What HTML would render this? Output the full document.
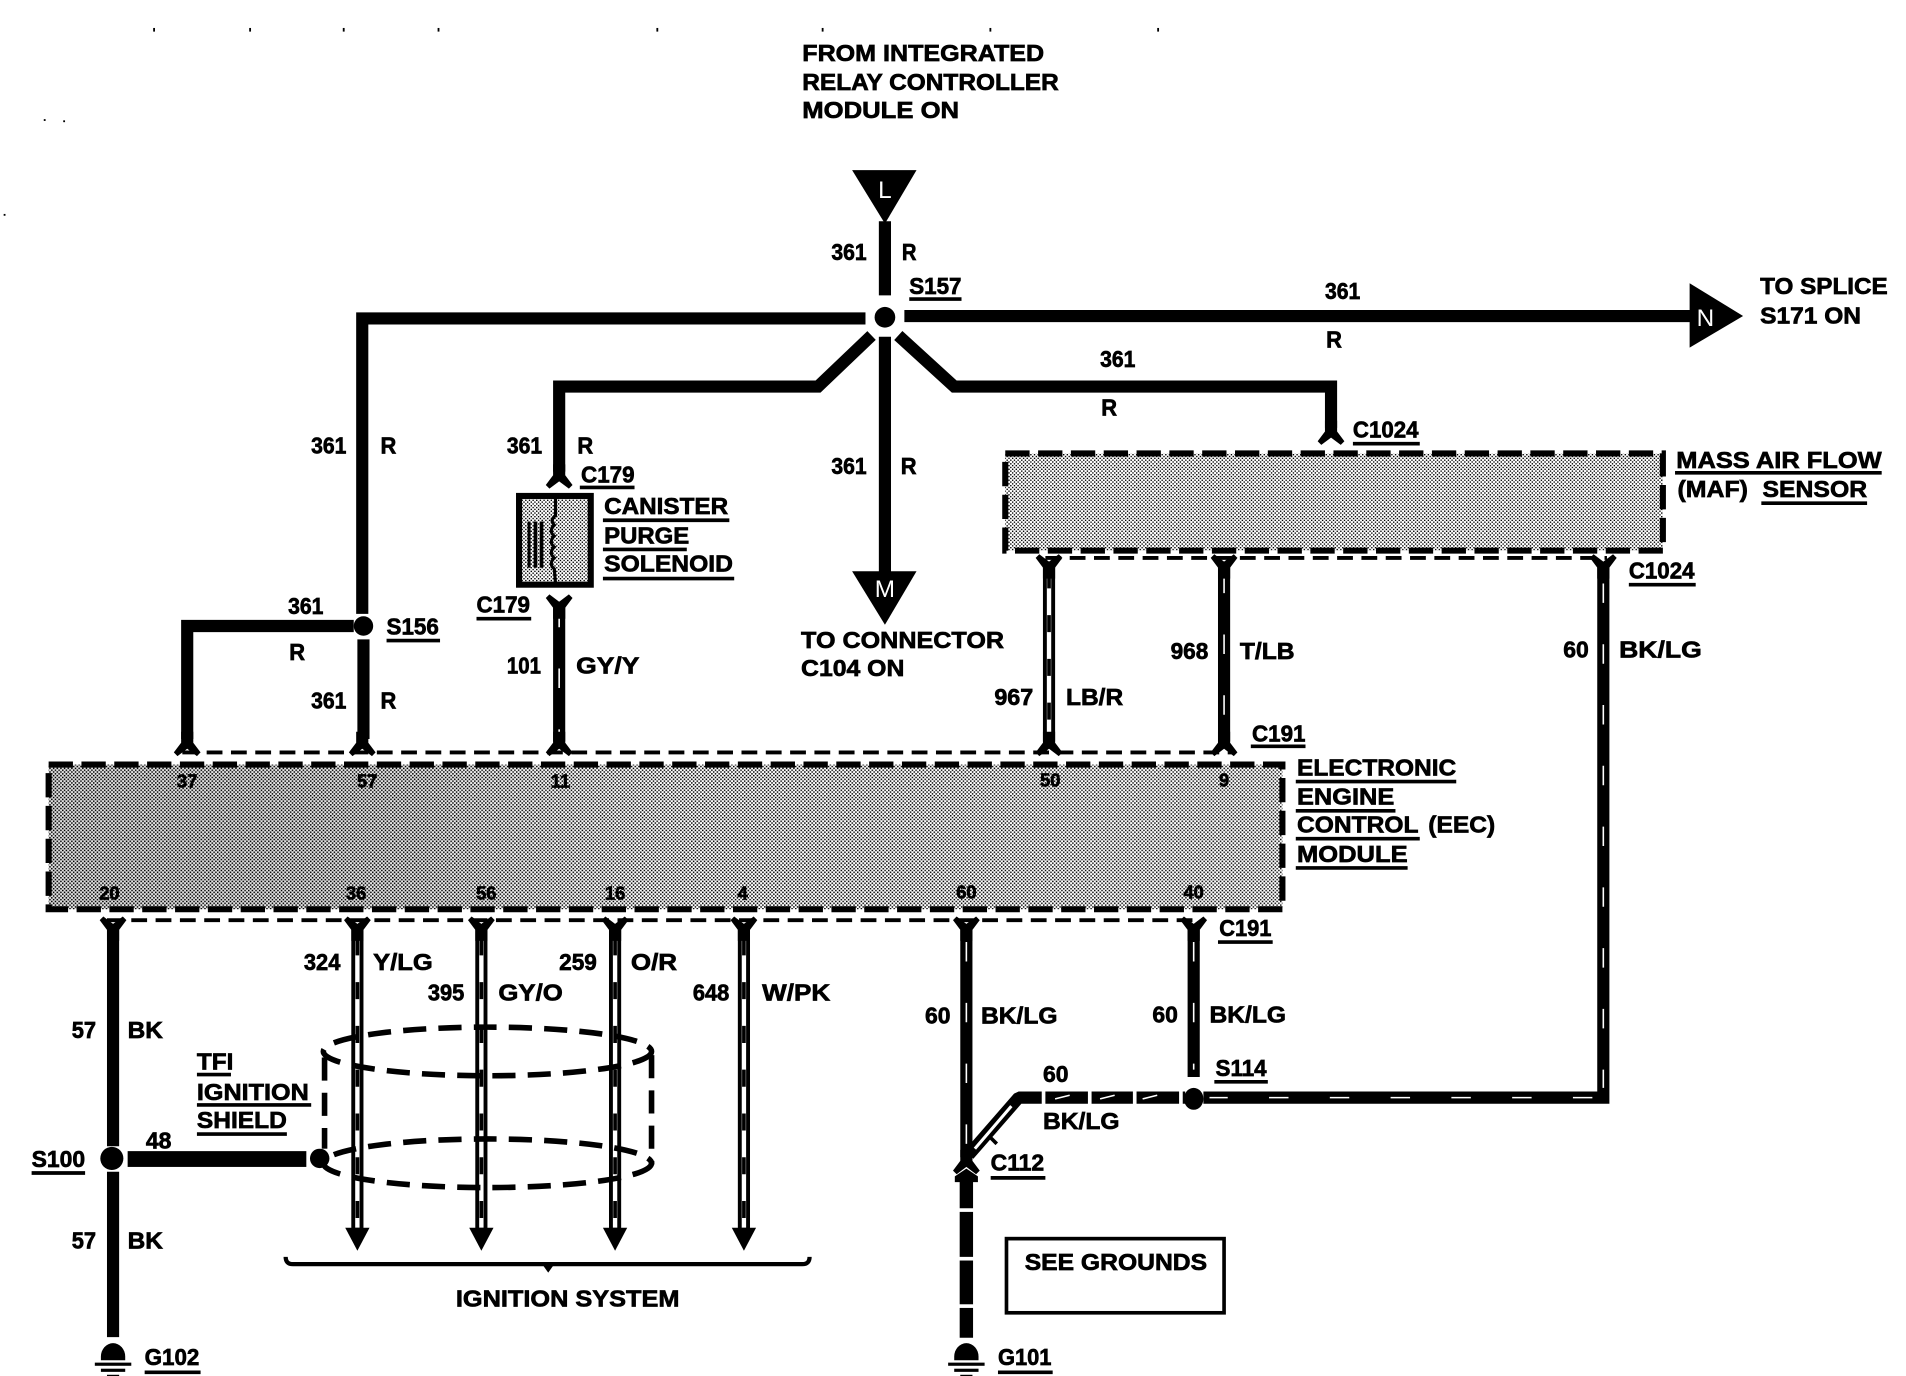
<!DOCTYPE html>
<html><head><meta charset="utf-8">
<style>
html,body{margin:0;padding:0;background:#fff;}
svg{display:block;width:1906px;height:1376px;}
text{font-family:"Liberation Sans",sans-serif;font-weight:bold;font-size:19px;fill:#000;stroke:#000;stroke-width:.55px;}
.w{stroke:#000;stroke-width:10;fill:none;stroke-linejoin:miter;}
.d{stroke:#000;stroke-width:10;fill:none;}
.in{stroke:#fff;stroke-width:3.6;fill:none;}
.sl{stroke:#000;stroke-width:3;fill:none;stroke-dasharray:14 22;}
.tk{stroke:#fff;stroke-width:1.3;fill:none;stroke-dasharray:16 34;}
.u{stroke:#000;stroke-width:3;fill:none;}
.dsh{stroke:#000;stroke-width:3.2;fill:none;stroke-dasharray:13 7;}
.sh{stroke:#000;stroke-width:4.6;fill:none;stroke-dasharray:19 10;}
</style></head><body>
<svg viewBox="0 0 1568 1132" xmlns="http://www.w3.org/2000/svg">
<defs>
<pattern id="p" width="3" height="3" patternUnits="userSpaceOnUse"><rect width="3" height="3" fill="#fff"/><rect width="1.25" height="1.25" fill="#000"/><rect x="1.5" y="1.5" width="1.25" height="1.25" fill="#000"/></pattern>
<pattern id="q" width="3" height="3" patternUnits="userSpaceOnUse"><rect width="3" height="3" fill="#fff"/><rect width="1.15" height="1.15" fill="#000"/><rect x="1.5" y="1.5" width="1.15" height="1.15" fill="#000"/></pattern>
<linearGradient id="g" x1="0" x2="1" y1="0" y2="0"><stop offset="0" stop-color="#000" stop-opacity=".12"/><stop offset=".3" stop-color="#000" stop-opacity=".1"/><stop offset=".55" stop-color="#fff" stop-opacity="0"/><stop offset="1" stop-color="#fff" stop-opacity=".08"/></linearGradient>
<path id="a" d="M-11 5 L-5 -3 L-5 -12 L5 -12 L5 -3 L11 5 L8 8 L0 2 L-8 8 Z"/>
<path id="y" d="M-11 -5 L-5 3 L-5 12 L5 12 L5 3 L11 -5 L8 -8 L0 -2 L-8 -8 Z"/>
<g id="gnd"><path d="M-10 0 A10 11 0 0 1 10 0 L10 3 L-10 3 Z"/><rect x="-15" y="5" width="30" height="2.6"/><rect x="-10" y="10" width="20" height="2.6"/><rect x="-5" y="15" width="10" height="2.6"/></g>
</defs>
<rect width="1568" height="1132" fill="#fff"/>

<!-- specks -->
<g fill="#000"><rect x="126" y="23" width="1.5" height="3"/><rect x="205" y="23" width="1.5" height="3"/><rect x="282" y="23" width="1.5" height="3"/><rect x="360" y="23" width="1.5" height="3"/><rect x="540" y="23" width="1.5" height="3"/><rect x="676" y="23" width="1.5" height="3"/><rect x="814" y="23" width="1.5" height="3"/><rect x="952" y="23" width="1.5" height="3"/><rect x="36" y="98" width="1.5" height="1.5"/><rect x="52" y="99" width="1.5" height="1.5"/><rect x="3" y="176" width="1.5" height="1.5"/></g>

<!-- boxes -->
<rect x="40" y="629" width="1015" height="119" fill="url(#p)"/>
<rect x="40" y="629" width="1015" height="119" fill="url(#g)"/>
<rect x="40" y="629" width="1015" height="119" fill="none" stroke="#000" stroke-width="5" stroke-dasharray="20 7"/>
<rect x="827" y="373" width="541" height="80" fill="url(#q)"/>
<rect x="827" y="373" width="541" height="80" fill="none" stroke="#000" stroke-width="5" stroke-dasharray="20 7"/>
<line class="dsh" x1="150" y1="619" x2="1016" y2="619"/>
<line class="dsh" x1="88" y1="757" x2="986" y2="757"/>
<line class="dsh" x1="860" y1="459" x2="1322" y2="459"/>

<!-- main wires -->
<polygon points="701,140 754,140 728,184"/>
<line class="w" x1="728" y1="182" x2="728" y2="243"/>
<line class="w" x1="744" y1="260" x2="1392" y2="260"/>
<polygon points="1390,233 1390,286 1434,260"/>
<polyline class="w" points="712,262 298,262 298,505"/>
<circle cx="299" cy="515" r="8"/>
<line class="w" x1="299" y1="526" x2="299" y2="608"/>
<polyline class="w" points="291,515 154,515 154,608"/>
<polyline class="w" points="717,276 673,318 460,318 460,388"/>
<polyline class="w" points="739,276 785,318 1095,318 1095,352"/>
<line class="w" x1="728" y1="277" x2="728" y2="474"/>
<polygon points="701,470 754,470 728,514"/>
<circle cx="728" cy="261" r="8.5"/>

<!-- signal wires -->
<line class="w" x1="460" y1="495" x2="460" y2="610"/><line class="tk" x1="460" y1="500" x2="460" y2="610"/>
<line class="d" x1="863" y1="465" x2="863" y2="610"/><line class="in" x1="863" y1="470" x2="863" y2="606"/><line class="sl" x1="863" y1="470" x2="863" y2="606"/>
<line class="w" x1="1007" y1="465" x2="1007" y2="610"/><line class="tk" x1="1007" y1="472" x2="1007" y2="606"/>
<polyline class="w" points="1319,465 1319,903 990,903"/><line class="tk" x1="1319" y1="480" x2="1319" y2="895"/><line class="tk" x1="1310" y1="903" x2="995" y2="903"/>
<use href="#a" x="154" y="614"/><use href="#a" x="298" y="614"/><use href="#a" x="460" y="614"/><use href="#a" x="863" y="614"/><use href="#a" x="1007" y="614"/>
<use href="#a" x="460" y="394"/><use href="#a" x="1095" y="358"/>
<use href="#y" x="460" y="497"/><use href="#y" x="863" y="464"/><use href="#y" x="1007" y="464"/><use href="#y" x="1319" y="464"/>

<line class="w" x1="93" y1="762" x2="93" y2="943"/>
<circle cx="92" cy="953" r="9.5"/>
<line class="w" x1="93" y1="964" x2="93" y2="1100"/>
<rect x="105" y="947" width="147" height="13"/>
<circle cx="263" cy="953" r="8"/>
<line class="d" x1="294" y1="762" x2="294" y2="1012"/><line class="in" x1="294" y1="770" x2="294" y2="1010"/><line class="sl" x1="294" y1="772" x2="294" y2="1010"/>
<line class="d" x1="396" y1="762" x2="396" y2="1012"/><line class="in" x1="396" y1="770" x2="396" y2="1010"/><line class="sl" x1="396" y1="772" x2="396" y2="1010"/>
<line class="d" x1="506" y1="762" x2="506" y2="1012"/><line class="in" x1="506" y1="770" x2="506" y2="1010"/><line class="sl" x1="506" y1="772" x2="506" y2="1010"/>
<line class="d" x1="612" y1="762" x2="612" y2="1012"/><line class="in" x1="612" y1="770" x2="612" y2="1010"/><line class="sl" x1="612" y1="772" x2="612" y2="1010"/>
<polygon points="284,1010 304,1010 294,1029"/><polygon points="386,1010 406,1010 396,1029"/><polygon points="496,1010 516,1010 506,1029"/><polygon points="602,1010 622,1010 612,1029"/>
<use href="#y" x="93" y="762"/><use href="#y" x="294" y="762"/><use href="#y" x="396" y="762"/><use href="#y" x="506" y="762"/><use href="#y" x="612" y="762"/><use href="#y" x="795" y="762"/><use href="#y" x="982" y="762"/>

<line class="w" x1="795" y1="765" x2="795" y2="952"/><line class="tk" x1="795" y1="775" x2="795" y2="945"/>
<line class="w" x1="982" y1="765" x2="982" y2="886"/><line class="tk" x1="982" y1="775" x2="982" y2="880"/>
<ellipse cx="982" cy="904" rx="8" ry="9"/>
<polyline class="w" points="797,950 838,903 975,903" style="stroke-linejoin:bevel"/>
<g fill="#fff"><rect x="857" y="897" width="3" height="12"/><rect x="895" y="897" width="3" height="12"/><rect x="932" y="897" width="3" height="12"/><rect x="970" y="897" width="3" height="12"/></g>
<line stroke="#fff" stroke-width="1.3" x1="868" y1="904" x2="880" y2="901"/><line stroke="#fff" stroke-width="1.3" x1="905" y1="904" x2="917" y2="901"/><line stroke="#fff" stroke-width="1.3" x1="940" y1="904" x2="952" y2="901"/>
<line stroke="#fff" stroke-width="2.5" x1="802" y1="945" x2="832" y2="910"/>
<line stroke="#000" stroke-width="3" x1="815" y1="936" x2="820" y2="941"/>
<use href="#a" x="795" y="958"/>
<path d="M786 972 L786 968 L795 962 L804 968 L804 972 L800 972 L800 1100 L790 1100 L790 972 Z" stroke="#000" stroke-width="1"/>
<g fill="#fff"><rect x="788" y="994" width="14" height="3"/><rect x="788" y="1034" width="14" height="3"/><rect x="788" y="1073" width="14" height="3"/></g>
<use href="#gnd" x="795" y="1116"/><use href="#gnd" x="93" y="1116"/>

<!-- shield -->
<ellipse class="sh" cx="401" cy="865" rx="135" ry="20"/>
<ellipse class="sh" cx="401" cy="957" rx="135" ry="20"/>
<line class="sh" x1="267" y1="870" x2="267" y2="945"/>
<line class="sh" x1="536" y1="868" x2="536" y2="958"/>

<!-- brace -->
<path d="M235 1034 Q235 1040 241 1040 L660 1040 Q666 1040 666 1034" fill="none" stroke="#000" stroke-width="3.5"/>
<path d="M446 1040 L451 1047 L456 1040 Z"/>
<rect x="828" y="1019" width="179" height="61" fill="none" stroke="#000" stroke-width="3"/>

<!-- solenoid -->
<rect x="427" y="408" width="59" height="73" fill="url(#q)" stroke="#000" stroke-width="5"/>
<g fill="#000"><rect x="434" y="429" width="2.5" height="38"/><rect x="439" y="429" width="3" height="38"/><rect x="444" y="429" width="3" height="38"/></g>
<path d="M457 410 L457 424 Q452 428 456 432 Q451 437 456 441 Q451 446 456 450 Q451 455 456 459 Q451 464 456 468 L457 480" fill="none" stroke="#000" stroke-width="2.6"/>

<!-- underlines -->
<g class="u">
<line x1="748" y1="246" x2="791" y2="246"/><line x1="1113" y1="365" x2="1168" y2="365"/><line x1="1378" y1="389" x2="1548" y2="389"/><line x1="1449" y1="414" x2="1536" y2="414"/>
<line x1="477" y1="401" x2="522" y2="401"/><line x1="496" y1="428" x2="600" y2="428"/><line x1="496" y1="452" x2="565" y2="452"/><line x1="496" y1="476" x2="604" y2="476"/>
<line x1="392" y1="509" x2="437" y2="509"/><line x1="318" y1="527" x2="362" y2="527"/><line x1="1340" y1="481" x2="1395" y2="481"/><line x1="1029" y1="614" x2="1074" y2="614"/>
<line x1="1066" y1="643" x2="1198" y2="643"/><line x1="1066" y1="667" x2="1148" y2="667"/><line x1="1066" y1="690" x2="1168" y2="690"/><line x1="1066" y1="714" x2="1158" y2="714"/>
<line x1="1002" y1="775" x2="1047" y2="775"/><line x1="26" y1="965" x2="70" y2="965"/><line x1="162" y1="884" x2="190" y2="884"/><line x1="162" y1="909" x2="256" y2="909"/><line x1="162" y1="933" x2="236" y2="933"/>
<line x1="999" y1="890" x2="1043" y2="890"/><line x1="815" y1="969" x2="860" y2="969"/><line x1="119" y1="1129" x2="165" y2="1129"/><line x1="821" y1="1129" x2="866" y2="1129"/>
</g>

<!-- labels -->
<text x="660" y="50" textLength="199" lengthAdjust="spacingAndGlyphs">FROM INTEGRATED</text>
<text x="660" y="74" textLength="211" lengthAdjust="spacingAndGlyphs">RELAY CONTROLLER</text>
<text x="660" y="97" textLength="129" lengthAdjust="spacingAndGlyphs">MODULE ON</text>
<text x="728" y="163" text-anchor="middle" style="fill:#fff;stroke:none;font-weight:normal;font-size:20px">L</text>
<text x="1403" y="268" text-anchor="middle" style="fill:#fff;stroke:none;font-weight:normal;font-size:20px">N</text>
<text x="728" y="491" text-anchor="middle" style="fill:#fff;stroke:none;font-weight:normal;font-size:20px">M</text>
<text x="684" y="214" textLength="29" lengthAdjust="spacingAndGlyphs">361</text><text x="742" y="214" textLength="12" lengthAdjust="spacingAndGlyphs">R</text>
<text x="748" y="242" textLength="43" lengthAdjust="spacingAndGlyphs">S157</text>
<text x="1090" y="246" textLength="29" lengthAdjust="spacingAndGlyphs">361</text><text x="1091" y="286" textLength="13" lengthAdjust="spacingAndGlyphs">R</text>
<text x="1448" y="242" textLength="105" lengthAdjust="spacingAndGlyphs">TO SPLICE</text><text x="1448" y="266" textLength="83" lengthAdjust="spacingAndGlyphs">S171 ON</text>
<text x="905" y="302" textLength="29" lengthAdjust="spacingAndGlyphs">361</text><text x="906" y="342" textLength="13" lengthAdjust="spacingAndGlyphs">R</text>
<text x="1113" y="360" textLength="54" lengthAdjust="spacingAndGlyphs">C1024</text>
<text x="1379" y="385" textLength="169" lengthAdjust="spacingAndGlyphs">MASS AIR FLOW</text>
<text x="1380" y="409" textLength="58" lengthAdjust="spacingAndGlyphs">(MAF)</text><text x="1450" y="409" textLength="86" lengthAdjust="spacingAndGlyphs">SENSOR</text>
<text x="256" y="373" textLength="29" lengthAdjust="spacingAndGlyphs">361</text><text x="313" y="373" textLength="13" lengthAdjust="spacingAndGlyphs">R</text>
<text x="417" y="373" textLength="29" lengthAdjust="spacingAndGlyphs">361</text><text x="475" y="373" textLength="13" lengthAdjust="spacingAndGlyphs">R</text>
<text x="478" y="397" textLength="44" lengthAdjust="spacingAndGlyphs">C179</text>
<text x="497" y="423" textLength="102" lengthAdjust="spacingAndGlyphs">CANISTER</text>
<text x="497" y="447" textLength="70" lengthAdjust="spacingAndGlyphs">PURGE</text>
<text x="497" y="470" textLength="106" lengthAdjust="spacingAndGlyphs">SOLENOID</text>
<text x="392" y="504" textLength="44" lengthAdjust="spacingAndGlyphs">C179</text>
<text x="684" y="390" textLength="29" lengthAdjust="spacingAndGlyphs">361</text><text x="741" y="390" textLength="13" lengthAdjust="spacingAndGlyphs">R</text>
<text x="237" y="505" textLength="29" lengthAdjust="spacingAndGlyphs">361</text><text x="238" y="543" textLength="13" lengthAdjust="spacingAndGlyphs">R</text>
<text x="318" y="522" textLength="43" lengthAdjust="spacingAndGlyphs">S156</text>
<text x="256" y="583" textLength="29" lengthAdjust="spacingAndGlyphs">361</text><text x="313" y="583" textLength="13" lengthAdjust="spacingAndGlyphs">R</text>
<text x="417" y="554" textLength="28" lengthAdjust="spacingAndGlyphs">101</text><text x="474" y="554" textLength="52" lengthAdjust="spacingAndGlyphs">GY/Y</text>
<text x="659" y="533" textLength="167" lengthAdjust="spacingAndGlyphs">TO CONNECTOR</text><text x="659" y="556" textLength="85" lengthAdjust="spacingAndGlyphs">C104 ON</text>
<text x="818" y="580" textLength="32" lengthAdjust="spacingAndGlyphs">967</text><text x="877" y="580" textLength="47" lengthAdjust="spacingAndGlyphs">LB/R</text>
<text x="963" y="542" textLength="31" lengthAdjust="spacingAndGlyphs">968</text><text x="1020" y="542" textLength="45" lengthAdjust="spacingAndGlyphs">T/LB</text>
<text x="1286" y="541" textLength="21" lengthAdjust="spacingAndGlyphs">60</text><text x="1332" y="541" textLength="68" lengthAdjust="spacingAndGlyphs">BK/LG</text>
<text x="1340" y="476" textLength="54" lengthAdjust="spacingAndGlyphs">C1024</text>
<text x="1030" y="610" textLength="44" lengthAdjust="spacingAndGlyphs">C191</text>
<text x="1067" y="638" textLength="131" lengthAdjust="spacingAndGlyphs">ELECTRONIC</text>
<text x="1067" y="662" textLength="80" lengthAdjust="spacingAndGlyphs">ENGINE</text>
<text x="1067" y="685" textLength="100" lengthAdjust="spacingAndGlyphs">CONTROL</text><text x="1175" y="685" textLength="55" lengthAdjust="spacingAndGlyphs">(EEC)</text>
<text x="1067" y="709" textLength="91" lengthAdjust="spacingAndGlyphs">MODULE</text>
<text x="1003" y="770" textLength="43" lengthAdjust="spacingAndGlyphs">C191</text>
<text x="250" y="798" textLength="30" lengthAdjust="spacingAndGlyphs">324</text><text x="307" y="798" textLength="49" lengthAdjust="spacingAndGlyphs">Y/LG</text>
<text x="352" y="823" textLength="30" lengthAdjust="spacingAndGlyphs">395</text><text x="410" y="823" textLength="53" lengthAdjust="spacingAndGlyphs">GY/O</text>
<text x="460" y="798" textLength="31" lengthAdjust="spacingAndGlyphs">259</text><text x="519" y="798" textLength="38" lengthAdjust="spacingAndGlyphs">O/R</text>
<text x="570" y="823" textLength="30" lengthAdjust="spacingAndGlyphs">648</text><text x="627" y="823" textLength="56" lengthAdjust="spacingAndGlyphs">W/PK</text>
<text x="761" y="842" textLength="21" lengthAdjust="spacingAndGlyphs">60</text><text x="807" y="842" textLength="63" lengthAdjust="spacingAndGlyphs">BK/LG</text>
<text x="948" y="841" textLength="21" lengthAdjust="spacingAndGlyphs">60</text><text x="995" y="841" textLength="63" lengthAdjust="spacingAndGlyphs">BK/LG</text>
<text x="59" y="854" textLength="20" lengthAdjust="spacingAndGlyphs">57</text><text x="105" y="854" textLength="29" lengthAdjust="spacingAndGlyphs">BK</text>
<text x="26" y="960" textLength="44" lengthAdjust="spacingAndGlyphs">S100</text>
<text x="120" y="945" textLength="21" lengthAdjust="spacingAndGlyphs">48</text>
<text x="162" y="880" textLength="30" lengthAdjust="spacingAndGlyphs">TFI</text>
<text x="162" y="905" textLength="92" lengthAdjust="spacingAndGlyphs">IGNITION</text>
<text x="162" y="928" textLength="74" lengthAdjust="spacingAndGlyphs">SHIELD</text>
<text x="59" y="1027" textLength="20" lengthAdjust="spacingAndGlyphs">57</text><text x="105" y="1027" textLength="29" lengthAdjust="spacingAndGlyphs">BK</text>
<text x="858" y="890" textLength="21" lengthAdjust="spacingAndGlyphs">60</text>
<text x="1000" y="885" textLength="42" lengthAdjust="spacingAndGlyphs">S114</text>
<text x="858" y="929" textLength="63" lengthAdjust="spacingAndGlyphs">BK/LG</text>
<text x="815" y="963" textLength="44" lengthAdjust="spacingAndGlyphs">C112</text>
<text x="843" y="1045" textLength="150" lengthAdjust="spacingAndGlyphs">SEE GROUNDS</text>
<text x="375" y="1075" textLength="184" lengthAdjust="spacingAndGlyphs">IGNITION SYSTEM</text>
<text x="119" y="1123" textLength="45" lengthAdjust="spacingAndGlyphs">G102</text>
<text x="821" y="1123" textLength="44" lengthAdjust="spacingAndGlyphs">G101</text>

<!-- pin numbers -->
<g style="font-size:15px">
<text x="154" y="648" text-anchor="middle" style="font-size:15px">37</text><text x="302" y="648" text-anchor="middle" style="font-size:15px">57</text><text x="461" y="648" text-anchor="middle" style="font-size:15px">11</text><text x="864" y="647" text-anchor="middle" style="font-size:15px">50</text><text x="1007" y="647" text-anchor="middle" style="font-size:15px">9</text>
<text x="90" y="740" text-anchor="middle" style="font-size:15px">20</text><text x="293" y="740" text-anchor="middle" style="font-size:15px">36</text><text x="400" y="740" text-anchor="middle" style="font-size:15px">56</text><text x="506" y="740" text-anchor="middle" style="font-size:15px">16</text><text x="611" y="740" text-anchor="middle" style="font-size:15px">4</text><text x="795" y="739" text-anchor="middle" style="font-size:15px">60</text><text x="982" y="739" text-anchor="middle" style="font-size:15px">40</text>
</g>
</svg>
</body></html>
